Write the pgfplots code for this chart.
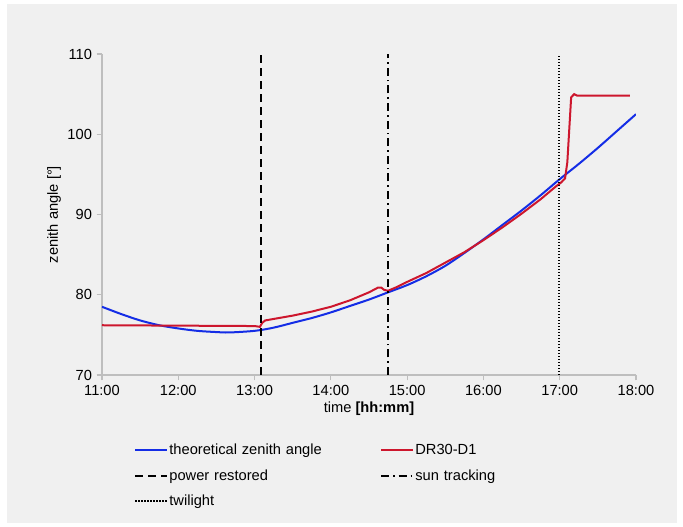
\documentclass[border=0pt]{standalone}
\usepackage{pgfplots}
\pgfplotsset{compat=1.18}
\usepackage{fontspec}
\setmainfont{Liberation Sans}
\definecolor{bg}{RGB}{240,240,240}
\definecolor{zblue}{RGB}{20,45,230}
\definecolor{zred}{RGB}{205,22,45}
\definecolor{axgray}{RGB}{190,190,190}
\begin{document}
\begin{tikzpicture}
% page frame: the axis box has its lower left corner at (0,0)
\path[fill=white] (-76.5pt,-114pt) rectangle (435.75pt,281.25pt);
\fill[bg] (-71.5pt,-111pt) rectangle (431pt,278pt);
\begin{axis}[
  scale only axis, width=400.5pt, height=240.75pt,
  xmin=11, xmax=18, ymin=70, ymax=110,
  xtick={11,12,...,18},
  xticklabels={11:00,12:00,13:00,14:00,15:00,16:00,17:00,18:00},
  ytick={70,80,90,100,110},
  axis x line*=bottom, axis y line*=left,
  axis line style={axgray, line width=0.9pt, -},
  tick style={axgray, line width=0.9pt},
  tick align=outside, major tick length=4pt,
  font=\fontsize{11}{13}\selectfont,
  ticklabel style={font=\fontsize{11}{13}\selectfont},
  /pgf/number format/assume math mode=true,
  xlabel={time \textbf{[hh:mm]}},
  ylabel={zenith angle [°]},
  xlabel style={yshift=2pt},
  ylabel style={yshift=-2pt},
  legend columns=2,
  legend cell align=left,
  legend style={at={(0.052,-0.198)}, anchor=north west, draw=none, fill=none,
    font=\fontsize{11}{13}\selectfont,
    nodes={text width=157pt, inner xsep=1pt, inner ysep=2pt},
    row sep=5.5pt},
  legend image code/.code={\draw[#1] (0pt,0pt) -- (24pt,0pt);},
]
\addplot[zblue, line width=1.5pt, smooth] coordinates {
(11.0,78.5) (11.25,77.6) (11.5,76.8) (11.75,76.2) (12.0,75.8) (12.25,75.5)
(12.5,75.35) (12.67,75.3) (13.0,75.5) (13.25,75.9) (13.5,76.5) (13.75,77.1)
(14.0,77.8) (14.25,78.6) (14.5,79.4) (14.75,80.3) (15.0,81.2) (15.25,82.3)
(15.5,83.6) (15.75,85.2) (16.0,86.9) (16.25,88.7) (16.5,90.5) (16.75,92.4)
(17.0,94.4) (17.25,96.3) (17.5,98.3) (17.75,100.4) (18.0,102.5)};
\addlegendentry{theoretical zenith angle}
\addplot[zred, line width=1.5pt] coordinates {
(11.0,76.2) (12.0,76.15) (13.0,76.1) (13.07,76.0) (13.1,76.5) (13.14,76.8)
(13.2,76.9) (13.5,77.4) (13.75,77.9) (14.0,78.5) (14.25,79.3) (14.5,80.3)
(14.62,80.9) (14.66,80.9) (14.7,80.6) (14.75,80.5) (14.85,80.9) (15.0,81.6)
(15.25,82.7) (15.5,84.0) (15.75,85.3) (16.0,86.8) (16.25,88.4) (16.5,90.1)
(16.75,91.9) (16.95,93.5) (17.02,94.0) (17.07,94.5) (17.1,96.5) (17.15,104.6)
(17.19,105.0) (17.23,104.8) (17.5,104.8) (17.92,104.8)};
\addlegendentry{DR30-D1}
\addplot[black, line width=1.5pt, dash pattern=on 6pt off 3.75pt] coordinates {(13.08,70) (13.08,110)};
\addlegendentry{power restored}
\addplot[black, line width=1.5pt, dash pattern=on 6pt off 3pt on 1.2pt off 3pt] coordinates {(14.75,70) (14.75,110)};
\addlegendentry{sun tracking}
\addplot[black, line width=1.1pt, dash pattern=on 1.1pt off 1.15pt] coordinates {(16.99,70) (16.99,110)};
\addlegendentry{twilight}
\end{axis}
\end{tikzpicture}
\end{document}
